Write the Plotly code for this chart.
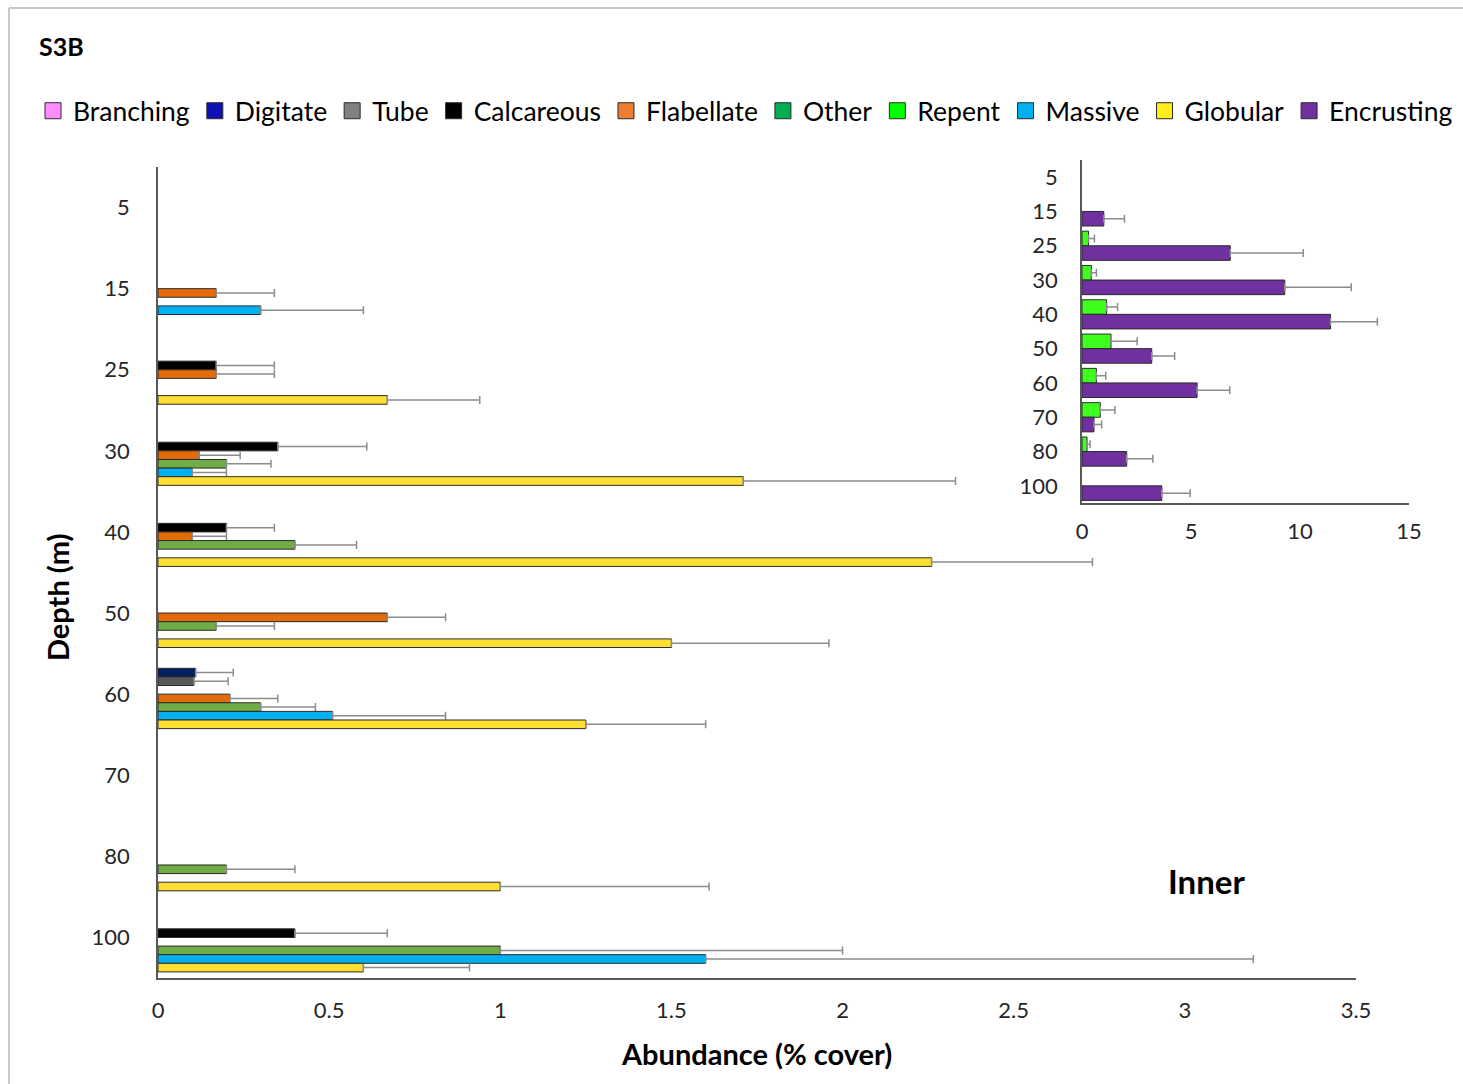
import plotly.graph_objects as go

W, H = 1463, 1084
N = None

# Depth categories (m)
depths = ["5", "15", "25", "30", "40", "50", "60", "70", "80", "100"]

# Main panel: abundance (% cover) and upper error
branching      = [N, N, N, N, N, N, N, N, N, N]
branching_err  = [N, N, N, N, N, N, N, N, N, N]
digitate       = [N, N, N, N, N, N, 0.11, N, N, N]
digitate_err   = [N, N, N, N, N, N, 0.11, N, N, N]
tube           = [N, N, N, N, N, N, 0.105, N, N, N]
tube_err       = [N, N, N, N, N, N, 0.10, N, N, N]
calcareous     = [N, N, 0.17, 0.35, 0.20, N, N, N, N, 0.40]
calcareous_err = [N, N, 0.17, 0.26, 0.14, N, N, N, N, 0.27]
flabellate     = [N, 0.17, 0.17, 0.12, 0.10, 0.67, 0.21, N, N, N]
flabellate_err = [N, 0.17, 0.17, 0.12, 0.10, 0.17, 0.14, N, N, N]
other          = [N, N, N, 0.20, 0.40, 0.17, 0.30, N, 0.20, 1.00]
other_err      = [N, N, N, 0.13, 0.18, 0.17, 0.16, N, 0.20, 1.00]
massive        = [N, 0.30, N, 0.10, N, N, 0.51, N, N, 1.60]
massive_err    = [N, 0.30, N, 0.10, N, N, 0.33, N, N, 1.60]
globular       = [N, N, 0.67, 1.71, 2.26, 1.50, 1.25, N, 1.00, 0.60]
globular_err   = [N, N, 0.27, 0.62, 0.47, 0.46, 0.35, N, 0.61, 0.31]

# Inset panel: abundance (% cover) and upper error
repent         = [N, N, 0.30, 0.43, 1.13, 1.33, 0.66, 0.84, 0.23, N]
repent_err     = [N, N, 0.27, 0.23, 0.50, 1.20, 0.43, 0.67, 0.14, N]
encrusting     = [N, 1.00, 6.80, 9.30, 11.40, 3.20, 5.28, 0.55, 2.05, 3.66]
encrusting_err = [N, 0.95, 3.35, 3.05, 2.15, 1.05, 1.50, 0.35, 1.20, 1.30]

legend_names = ["Branching", "Digitate", "Tube", "Calcareous", "Flabellate",
                "Other", "Repent", "Massive", "Globular", "Encrusting"]
legend_colors = ["#FF8CFF", "#1010B4", "#808080", "#000000", "#ED7D31",
                 "#00B050", "#00FF00", "#00B0F0", "#FFEE1A", "#7030A0"]

main_series = [
    ("Branching", branching, branching_err, "#FF8CFF"),
    ("Digitate", digitate, digitate_err, "#002060"),
    ("Tube", tube, tube_err, "#595959"),
    ("Calcareous", calcareous, calcareous_err, "#000000"),
    ("Flabellate", flabellate, flabellate_err, "#E36C09"),
    ("Other", other, other_err, "#70AD47"),
    ("Massive", massive, massive_err, "#00B0F0"),
    ("Globular", globular, globular_err, "#FFE032"),
]
inset_series = [
    ("Repent", repent, repent_err, "#3FFF1F"),
    ("Encrusting", encrusting, encrusting_err, "#7030A0"),
]

FONT = "Lato"
TXT = "#262626"

fig = go.Figure()


def add_bars(series, xa, ya):
    for name, vals, err, col in series:
        fig.add_trace(go.Bar(
            name=name, y=depths, x=vals, orientation="h",
            xaxis=xa, yaxis=ya, showlegend=False,
            marker=dict(color=col, line=dict(color="#2b2b2b", width=1)),
            error_x=dict(type="data", symmetric=False, array=err,
                         arrayminus=[0] * len(depths),
                         color="#8c8c8c", thickness=1.5, width=4),
        ))


add_bars(main_series, "x", "y")
add_bars(inset_series, "x2", "y2")

# legend entries (square swatches)
for name, col in zip(legend_names, legend_colors):
    fig.add_trace(go.Scatter(
        x=[None], y=[None], mode="markers", name=name,
        marker=dict(symbol="square", size=16, color=col,
                    line=dict(color="#2b2b2b", width=1)),
        xaxis="x", yaxis="y",
    ))


def px_x(p):
    return p / W


def px_y(p):
    return 1 - p / H


axis_common = dict(showline=True, linecolor="#595959", linewidth=1.5,
                   showgrid=False, zeroline=False, ticks="", automargin=False,
                   tickfont=dict(family=FONT, size=22, color=TXT))

fig.update_layout(
    width=W, height=H,
    margin=dict(l=0, r=0, t=0, b=0, autoexpand=False),
    paper_bgcolor="white", plot_bgcolor="rgba(0,0,0,0)",
    barmode="group", bargap=0.15, bargroupgap=0,
    font=dict(family=FONT, color=TXT),
    xaxis=dict(domain=[px_x(158), px_x(1356)], range=[0, 3.5], dtick=0.5,
               anchor="y", ticklabelstandoff=12, **axis_common),
    yaxis=dict(domain=[px_y(978), px_y(167)], type="category",
               categoryorder="array", categoryarray=depths,
               autorange="reversed", anchor="x", ticklabelstandoff=22,
               **axis_common),
    xaxis2=dict(domain=[px_x(1082), px_x(1409)], range=[0, 15], dtick=5,
                anchor="y2", ticklabelstandoff=8, **axis_common),
    yaxis2=dict(domain=[px_y(503), px_y(160)], type="category",
                categoryorder="array", categoryarray=depths,
                autorange="reversed", anchor="x2", ticklabelstandoff=18,
                **axis_common),
    legend=dict(orientation="h", x=px_x(33), xanchor="left",
                y=px_y(111), yanchor="middle",
                font=dict(family=FONT, size=26.5, color="#000000"),
                bgcolor="rgba(0,0,0,0)", itemsizing="trace",
                tracegroupgap=0),
    showlegend=True,
)


def label(x, y, text, size, angle=0, xanchor="center"):
    fig.add_annotation(x=px_x(x), y=px_y(y), xref="paper", yref="paper",
                       xanchor=xanchor, yanchor="middle", showarrow=False,
                       textangle=angle, text=text,
                       font=dict(family=FONT, size=size, color="#000"))


label(37, 46, "<b>S3B</b>", 25, xanchor="left")
label(57, 598, "<b>Depth (m)</b>", 29, angle=-90)
label(757, 1053, "<b>Abundance (% cover)</b>", 29)
label(1206, 881, "<b>Inner</b>", 33)

# outer frame edges
fig.add_shape(type="line", xref="paper", yref="paper",
              x0=px_x(9), x1=px_x(9), y0=px_y(8), y1=0,
              line=dict(color="#C8C8C8", width=2))
fig.add_shape(type="line", xref="paper", yref="paper",
              x0=px_x(9), x1=1, y0=px_y(8), y1=px_y(8),
              line=dict(color="#C8C8C8", width=2))

fig.write_html("out.html")
